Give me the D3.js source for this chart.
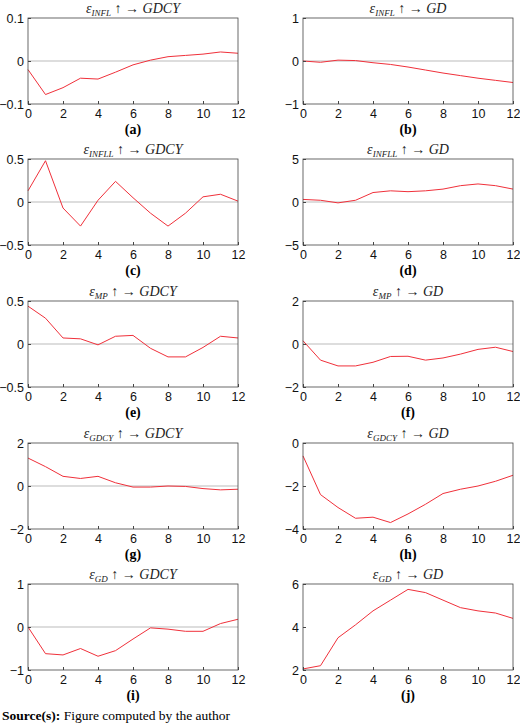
<!DOCTYPE html>
<html><head><meta charset="UTF-8">
<style>body{margin:0;background:#fff} .serif{font-family:'Liberation Serif','Times New Roman',serif}</style>
</head><body>
<svg id="chart" width="520" height="726"></svg>
<script src="https://d3js.org/d3.v7.min.js"></script>
<script>
// impulse responses, horizon 0..12
const horizon = d3.range(0, 13);
const shocks = ["INFL", "INFLL", "MP", "GDCY", "GD"];
const targets = ["GDCY", "GD"];
const labels = ["(a)","(b)","(c)","(d)","(e)","(f)","(g)","(h)","(i)","(j)"];
const yDomains = [[-0.1,0.1],[-1,1],[-0.5,0.5],[-5,5],[-0.5,0.5],[-2,2],[-2,2],[-4,0],[-1,1],[2,6]];
const yTicks = [[-0.1,0,0.1],[-1,0,1],[-0.5,0,0.5],[-5,0,5],[-0.5,0,0.5],[-2,0,2],[-2,0,2],[-4,-2,0],[-1,0,1],[2,4,6]];
const respA = [-0.02,-0.078,-0.062,-0.04,-0.042,-0.026,-0.009,0.002,0.01,0.013,0.016,0.021,0.018];
const respB = [0,-0.03,0.02,0.01,-0.04,-0.08,-0.14,-0.21,-0.28,-0.34,-0.40,-0.45,-0.50];
const respC = [0.13,0.48,-0.07,-0.28,0.02,0.24,0.05,-0.13,-0.28,-0.13,0.06,0.09,0.01];
const respD = [0.3,0.2,-0.1,0.2,1.1,1.3,1.2,1.3,1.5,1.9,2.1,1.9,1.5];
const respE = [0.44,0.3,0.07,0.06,-0.01,0.09,0.10,-0.05,-0.15,-0.15,-0.04,0.09,0.07];
const respF = [0.15,-0.75,-1.02,-1.02,-0.85,-0.58,-0.57,-0.75,-0.65,-0.47,-0.25,-0.15,-0.35];
const respG = [1.3,0.9,0.45,0.35,0.45,0.15,-0.05,-0.05,0.0,-0.02,-0.12,-0.18,-0.15];
const respH = [-0.6,-2.4,-3.0,-3.5,-3.45,-3.7,-3.3,-2.85,-2.35,-2.15,-2.0,-1.78,-1.5];
const respI = [0.0,-0.62,-0.65,-0.5,-0.68,-0.55,-0.28,-0.02,-0.05,-0.1,-0.1,0.08,0.18];
const respJ = [2.05,2.2,3.5,4.1,4.75,5.25,5.75,5.6,5.25,4.9,4.75,4.65,4.4];
const responses = [respA,respB,respC,respD,respE,respF,respG,respH,respI,respJ];

const svg = d3.select("#chart");
const colX = [28, 303], pw = 210, ph = 86;
const rowY = [18, 159, 301, 443, 584];
const fmt = v => (v < 0 ? "\u2212" : "") + Math.abs(v);

responses.forEach((vals, i) => {
  const r = Math.floor(i / 2), c = i % 2;
  const g = svg.append("g").attr("transform", `translate(${colX[c]},${rowY[r]})`);
  const x = d3.scaleLinear([0, 12], [0, pw]);
  const y = d3.scaleLinear(yDomains[i], [ph, 0]);

  if (yDomains[i][0] < 0 && yDomains[i][1] > 0)
    g.append("line").attr("x1", 0).attr("x2", pw).attr("y1", y(0)).attr("y2", y(0))
      .attr("stroke", "#bbb").attr("stroke-width", 1);

  g.append("path").datum(vals)
    .attr("d", d3.line().x((d, k) => x(horizon[k])).y(d => y(d)))
    .attr("fill", "none").attr("stroke", "#f0303a").attr("stroke-width", 1);

  g.append("rect").attr("width", pw).attr("height", ph)
    .attr("fill", "none").attr("stroke", "#444").attr("stroke-width", 0.8);

  const ax = g.append("g").attr("transform", `translate(0,${ph})`)
    .call(d3.axisBottom(x).tickValues(d3.range(0, 13, 2)).tickSize(-3).tickPadding(5));
  const ay = g.append("g")
    .call(d3.axisLeft(y).tickValues(yTicks[i]).tickFormat(fmt).tickSize(-3).tickPadding(4));
  [ax, ay].forEach(a => {
    a.select(".domain").remove();
    a.selectAll("line").attr("stroke", "#444");
    a.selectAll("text").attr("font-family", "'Liberation Sans', Arial, sans-serif")
      .attr("font-size", 12.5).attr("fill", "#111");
  });

  const t = g.append("text").attr("class", "serif").attr("x", pw / 2).attr("y", -5)
    .attr("text-anchor", "middle").attr("font-size", 14).attr("fill", "#222");
  t.append("tspan").attr("font-style", "italic").text("\u03b5");
  t.append("tspan").attr("font-style", "italic").attr("font-size", 9).attr("dy", 3).text(shocks[r]);
  t.append("tspan").attr("dy", -3).text(" \u2191 \u2192  ");
  t.append("tspan").attr("font-style", "italic").text(targets[c]);

  g.append("text").attr("class", "serif").attr("x", pw / 2).attr("y", ph + 30)
    .attr("text-anchor", "middle").attr("font-weight", "bold")
    .attr("font-size", 14).text(labels[i]);
});

const src = svg.append("text").attr("class", "serif").attr("x", 2).attr("y", 720)
  .attr("font-size", 13.5);
src.append("tspan").attr("font-weight", "bold").text("Source(s):");
src.append("tspan").text(" Figure computed by the author");
</script>
</body></html>
